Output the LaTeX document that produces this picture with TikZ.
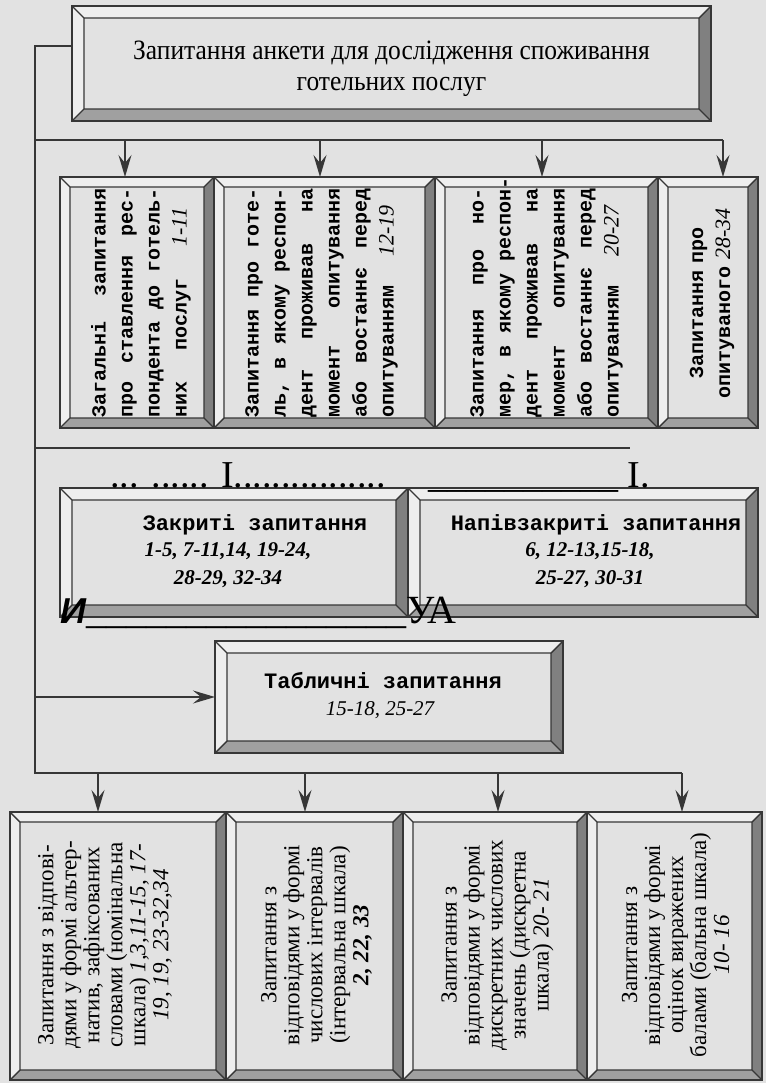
\documentclass[tikz,border=0pt]{standalone}
\usepackage{fontspec}
\setmainfont{Liberation Serif}
\setsansfont{Liberation Sans}
\setmonofont{Liberation Mono}
\newfontfamily\condserif[FakeStretch=0.91]{Liberation Serif}
\usetikzlibrary{arrows.meta}

\definecolor{paper}{RGB}{226,226,226}
\definecolor{lite}{RGB}{238,238,238}
\definecolor{shadedark}{RGB}{128,128,128}
\definecolor{shademid}{RGB}{160,160,160}
\definecolor{ink}{RGB}{55,55,55}

\newcommand\bevw{5pt}
% justified lines for the monospace columns
\newcommand\jst{\parfillskip=0pt\spaceskip=0.6em plus 1fil\relax
  \hyphenpenalty=10000\exhyphenpenalty=10000\noindent}
\newcommand\nm[1]{{\rmfamily\mdseries\itshape\fontsize{11}{13.5}\selectfont #1}}

\begin{document}
\begin{tikzpicture}[x=0.5pt, y=-0.5pt,
    frame/.style={draw=ink, line width=1pt, fill=paper, inner sep=0pt, outer sep=0pt,
      path picture={
        \path (path picture bounding box.north west) coordinate (pa)
              (path picture bounding box.south east) coordinate (pb);
        \path ([shift={(\bevw,-\bevw)}]pa) coordinate (qa)
              ([shift={(-\bevw,\bevw)}]pb) coordinate (qb);
        \fill[lite] (pa) -- (pa -| pb) -- (qa -| qb) -- (qa) -- (qa |- qb) -- (pa |- pb) -- cycle;
        \fill[shadedark] (pa -| pb) -- (pb) -- (qb) -- (qa -| qb) -- cycle;
        \fill[shademid] (pa |- pb) -- (pb) -- (qb) -- (qa |- qb) -- cycle;
        \draw[ink, line width=0.7pt] (qa) rectangle (qb)
          (pa) -- (qa) (pa -| pb) -- (qa -| qb) (pb) -- (qb) (pa |- pb) -- (qa |- qb);
      }},
    bevel/.code={\def\bevw{#1}},
    conn/.style={draw=ink, line width=1pt},
    arr/.style={conn, -{Stealth[length=11pt, width=6.5pt, inset=4pt]}},
    gtext/.style={rotate=90, text width=114.5pt, inner sep=0pt,
                  font=\ttfamily\bfseries\fontsize{10}{13.5}\selectfont},
    btext/.style={rotate=90, align=center, inner sep=0pt,
                  font=\fontsize{11.5}{11.5}\selectfont},
    mtitle/.style={anchor=base, inner sep=0pt,
                   font=\ttfamily\bfseries\fontsize{11}{11}\selectfont},
    nums/.style={align=center, inner sep=0pt,
                 font=\bfseries\itshape\fontsize{10.5}{14}\selectfont},
    ocr/.style={anchor=base west, inner sep=0pt, font=\fontsize{19}{19}\selectfont}
  ]
  \useasboundingbox (0,0) rectangle (766,1083);
  \fill[paper] (0,0) rectangle (766,1083);

  % Questionnaire as a whole
  \node[frame, bevel=6pt, minimum width=319.5pt, minimum height=57.5pt] (top) at (391.5,63.5) {};
  \node[align=center, inner sep=0pt, font=\condserif\fontsize{14}{15.5}\selectfont]
    (topt) at (391.5,69) {Запитання анкети для дослідження споживання\\готельних послуг};

  % Groups of questions by subject
  \foreach \n/\cx/\w in {g1/137/77pt, g2/324.5/110.5pt, g3/546.5/111.5pt, g4/708/50pt}
    \node[frame, minimum width=\w, minimum height=125.5pt] (\n) at (\cx,302.5) {};

  \node[gtext] (g1t) at (141,303) {\jst Загальні запитання\linebreak
    про ставлення рес-\linebreak пондента до готель-\linebreak
    них послуг \nm{1-11}};
  \node[gtext] (g2t) at (321.5,303) {\jst Запитання про готе-\linebreak
    ль, в якому респон-\linebreak дент проживав на\linebreak
    момент опитування\linebreak або востаннє перед\linebreak
    опитуванням \nm{12-19}};
  \node[gtext] (g3t) at (546.5,303) {\jst Запитання про но-\linebreak
    мер,~в~якому~респон-\linebreak дент проживав на\linebreak
    момент опитування\linebreak або востаннє перед\linebreak
    опитуванням \nm{20-27}};
  \node[gtext, align=center] (g4t) at (712,303) {Запитання про\\опитуваного \nm{28-34}};

  % Closed / semi-closed
  \node[frame, bevel=6pt, minimum width=174pt, minimum height=64.5pt] (closed) at (234,552.5) {};
  \node[frame, bevel=6pt, minimum width=175pt, minimum height=64.5pt] (semi) at (583,552.5) {};
  \node[mtitle] (closedt) at (255,530) {Закриті запитання};
  \node[nums] (closedn) at (228,565) {1-5, 7-11,14, 19-24,\\28-29, 32-34};
  \node[mtitle] (semit) at (596,530) {Напівзакриті запитання};
  \node[nums] (semin) at (590,565) {6, 12-13,15-18,\\25-27, 30-31};

  % Table questions
  \node[frame, bevel=6pt, minimum width=174pt, minimum height=56pt] (tabl) at (389,697) {};
  \node[mtitle] (tablt) at (383,688) {Табличні запитання};
  \node[anchor=base, inner sep=0pt, font=\itshape\fontsize{10.5}{12}\selectfont]
    (tabln) at (380,715) {15-18, 25-27};

  % Groups of questions by scale
  \foreach \n/\cx/\w in {b1/118/108pt, b2/314.5/88.5pt, b3/495/92pt, b4/674.5/87.5pt}
    \node[frame, minimum width=\w, minimum height=134pt] (\n) at (\cx,946) {};

  \node[btext] (b1t) at (105,945) {Запитання з відпові-\\дями у формі альтер-\\
    натив, зафіксованих\\словами (номінальна\\шкала) \textit{1,3,11-15, 17-}\\
    \textit{19, 19, 23-32,34}};
  \node[btext] (b2t) at (316.5,945) {Запитання з\\відповідями у формі\\
    числових інтервалів\\(інтервальна шкала)\\\textbf{\textit{2, 22, 33}}};
  \node[btext] (b3t) at (497.5,945) {Запитання з\\відповідями у формі\\
    дискретних числових\\значень (дискретна\\шкала) \textit{20- 21}};
  \node[btext] (b4t) at (675.5,945) {Запитання з\\відповідями у формі\\
    оцінок виражених\\балами (бальна шкала)\\\textit{10- 16}};

  % scan marks over the lines
  \node[ocr] (dotsl) at (110,487) {... ...... I................};
  \node[ocr] (dotsr) at (428,487) {\_\_\_\_\_\_\_\_\_\_ I.};
  \node[ocr, font=\fontsize{20}{20}\selectfont] (ua) at (60,623)
    {{\sffamily\bfseries\itshape\fontsize{18}{18}\selectfont И}\_\_\_\_\_\_\_\_\_\_\_\_\_\_\_\_УА};

  % Connectors
  \coordinate (stub) at (35,46);
  \coordinate (busA) at (723,140);
  \coordinate (busB) at (630,448);
  \coordinate (busC) at (682,773);
  \draw[conn] (top.west |- stub) -- (stub) -- (stub |- busC) -- (busC);
  \draw[conn] (stub |- busA) -- (busA);
  \draw[conn] (stub |- busB) -- (busB);
  \draw[arr] (stub |- tabl.west) -- (tabl.west);
  \foreach \n/\ax in {g1/125, g2/320, g3/542, g4/723} {
    \coordinate (\n-a) at (\ax,140);
    \draw[arr] (\n-a) -- (\n-a |- \n.north);
  }
  \foreach \n/\ax in {b1/98, b2/305, b3/498, b4/682} {
    \coordinate (\n-a) at (\ax,773);
    \draw[arr] (\n-a) -- (\n-a |- \n.north);
  }
\end{tikzpicture}
\end{document}
